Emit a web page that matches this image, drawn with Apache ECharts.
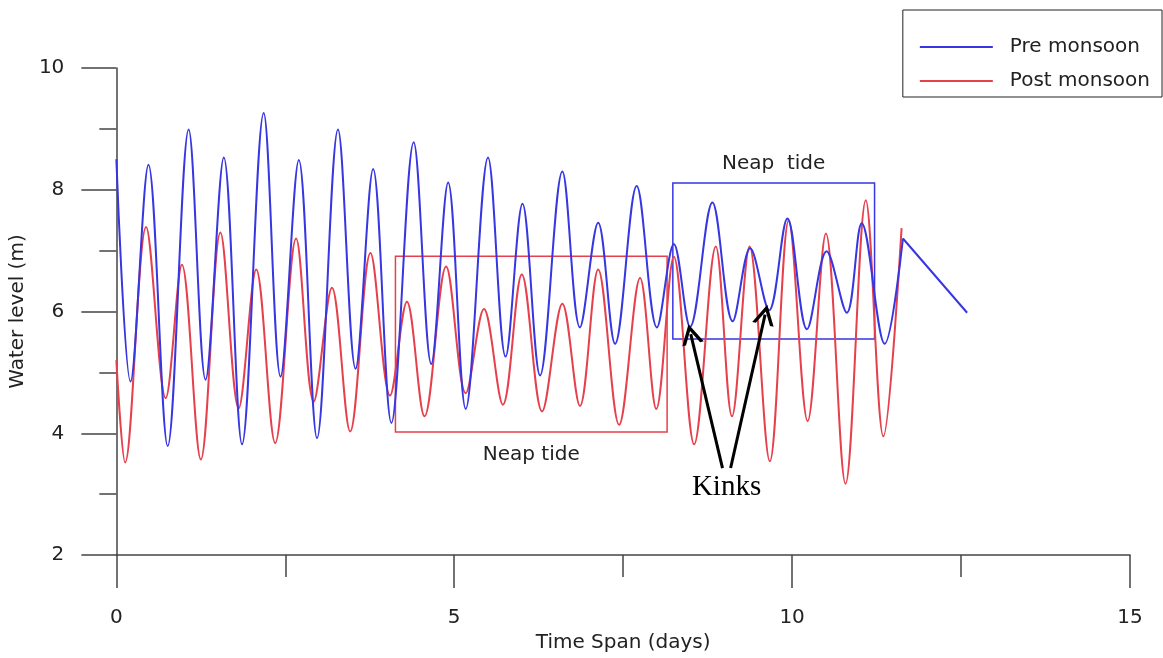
<!DOCTYPE html>
<html>
<head>
<meta charset="utf-8">
<script src="https://cdn.jsdelivr.net/npm/echarts@6/dist/echarts.min.js"></script>
<style>
  html, body { margin: 0; padding: 0; background: #fff; }
  #chart { width: 1163px; height: 658px; }
</style>
</head>
<body>
<div id="chart"></div>
<script>
// tide extrema (days, metres)
const preTime = [0, 0.21, 0.475, 0.76, 1.07, 1.32, 1.59, 1.86, 2.18, 2.43, 2.70, 2.97, 3.28, 3.54, 3.80, 4.07, 4.40, 4.66, 4.91, 5.17, 5.50, 5.76, 6.01, 6.27, 6.60, 6.86, 7.13, 7.38, 7.70, 8.0, 8.25, 8.49, 8.82, 9.12, 9.38, 9.66, 9.93, 10.22, 10.51, 10.81, 11.03, 11.37, 11.64]
const preLevel = [8.5, 4.85, 8.41, 3.79, 8.99, 4.88, 8.53, 3.82, 9.26, 4.93, 8.49, 3.92, 8.99, 5.06, 8.34, 4.17, 8.78, 5.14, 8.12, 4.40, 8.53, 5.26, 7.77, 4.95, 8.30, 5.74, 7.46, 5.47, 8.06, 5.74, 7.11, 5.75, 7.79, 5.84, 7.04, 6.02, 7.53, 5.71, 6.99, 5.98, 7.45, 5.47, 7.20]
const preTailTime = [11.64, 12.59]
const preTailLevel = [7.20, 5.98]

const postTime = [0, 0.13, 0.44, 0.73, 0.97, 1.25, 1.54, 1.81, 2.07, 2.35, 2.66, 2.92, 3.19, 3.46, 3.76, 4.05, 4.30, 4.56, 4.88, 5.17, 5.44, 5.72, 6.0, 6.30, 6.60, 6.86, 7.13, 7.44, 7.75, 7.99, 8.25, 8.55, 8.87, 9.11, 9.37, 9.67, 9.95, 10.23, 10.50, 10.79, 11.09, 11.35, 11.62]
const postLevel = [5.2, 3.52, 7.39, 4.58, 6.77, 3.57, 7.30, 4.41, 6.69, 3.84, 7.20, 4.52, 6.39, 4.03, 6.96, 4.62, 6.16, 4.28, 6.74, 4.66, 6.04, 4.47, 6.61, 4.36, 6.13, 4.45, 6.69, 4.14, 6.55, 4.40, 6.90, 3.82, 7.07, 4.28, 7.07, 3.54, 7.50, 4.20, 7.28, 3.17, 7.83, 3.95, 7.37]

// neap tide boxes: [x0, y0, x1, y1]
const preNeapBox = [8.235, 5.55, 11.22, 8.11]
const postNeapBox = [4.13, 4.02, 8.15, 6.91]

// kink arrows: [tailX, tailY, tipX, tipY]
const kinkArrows = [
  [8.97, 3.43, 8.50, 5.63],
  [9.09, 3.43, 9.60, 5.95]
]
const kinkLabelAt = [9.03, 3.11]

const seriesNames = ['Pre monsoon', 'Post monsoon']
const blue = '#3636e2'
const red = '#e6404c'
const textColor = '#222'
const axisColor = '#444'
const font = 'DejaVu Sans'

function pairs(xs, ys) {
  return xs.map((x, i) => [x, ys[i]])
}

// open arrow head, tip at the top
const chevron = 'path://M0,10 L5,0 L10,10 L8.3,10 L5,3.4 L1.7,10 Z'

const chart = echarts.init(document.getElementById('chart'))

chart.setOption({
  animation: false,
  grid: { left: 110, right: 33, top: 68, bottom: 98 },
  legend: {
    data: seriesNames,
    orient: 'vertical',
    right: 1,
    top: 10,
    icon: 'rect',
    itemWidth: 73,
    itemHeight: 2,
    itemGap: 14,
    padding: [27, 12, 6, 17],
    borderColor: '#222',
    borderWidth: 1,
    textStyle: { color: textColor, fontFamily: font, fontSize: 20, lineHeight: 20, padding: [0, 0, 0, 12] }
  },
  xAxis: {
    type: 'value',
    min: 0,
    max: 15,
    interval: 5,
    name: 'Time Span (days)',
    nameLocation: 'middle',
    nameGap: 75,
    nameTextStyle: { color: textColor, fontFamily: font, fontSize: 20 },
    axisLine: { onZero: false, lineStyle: { color: axisColor, width: 1.5 } },
    axisTick: { length: 33, lineStyle: { color: axisColor, width: 1.5 } },
    minorTick: { show: true, splitNumber: 2, length: 22, lineStyle: { color: axisColor, width: 1.5 } },
    axisLabel: { color: textColor, fontFamily: font, fontSize: 20, margin: 53 },
    splitLine: { show: false }
  },
  yAxis: {
    type: 'value',
    min: 2,
    max: 10,
    interval: 2,
    name: 'Water level (m)',
    nameLocation: 'middle',
    nameRotate: 90,
    nameGap: 77,
    nameTextStyle: { color: textColor, fontFamily: font, fontSize: 20 },
    axisLine: { onZero: false, lineStyle: { color: axisColor, width: 1.5 } },
    axisTick: { length: 35, lineStyle: { color: axisColor, width: 1.5 } },
    minorTick: { show: true, splitNumber: 2, length: 17, lineStyle: { color: axisColor, width: 1.5 } },
    axisLabel: { color: textColor, fontFamily: font, fontSize: 20, margin: 52 },
    splitLine: { show: false }
  },
  series: [
    {
      name: seriesNames[0],
      type: 'line',
      data: pairs(preTime, preLevel),
      smooth: 0.35,
      showSymbol: false,
      lineStyle: { color: blue, width: 2 },
      itemStyle: { color: blue },
      z: 3,
      markArea: {
        silent: true,
        itemStyle: { color: 'transparent', borderColor: blue, borderWidth: 1.5 },
        label: { show: true, position: 'top', distance: 9, color: textColor, fontFamily: font, fontSize: 20 },
        data: [[
          { name: 'Neap  tide', coord: [preNeapBox[0], preNeapBox[3]] },
          { coord: [preNeapBox[2], preNeapBox[1]] }
        ]]
      },
      markLine: {
        silent: true,
        symbol: ['none', chevron],
        symbolSize: [22, 20],
        label: { show: false },
        lineStyle: { color: '#000', width: 3, type: 'solid' },
        data: kinkArrows.map((a) => [
          { coord: [a[0], a[1]] },
          { coord: [a[2], a[3]] }
        ])
      },
      markPoint: {
        silent: true,
        symbol: 'circle',
        symbolSize: 0,
        label: { show: true, position: 'inside', color: '#000', fontFamily: 'Liberation Serif', fontSize: 29, formatter: 'Kinks' },
        data: [{ coord: kinkLabelAt }]
      }
    },
    {
      name: seriesNames[0],
      type: 'line',
      data: pairs(preTailTime, preTailLevel),
      showSymbol: false,
      lineStyle: { color: blue, width: 2 },
      itemStyle: { color: blue },
      z: 3
    },
    {
      name: seriesNames[1],
      type: 'line',
      data: pairs(postTime, postLevel),
      smooth: 0.35,
      showSymbol: false,
      lineStyle: { color: red, width: 2 },
      itemStyle: { color: red },
      z: 2,
      markArea: {
        silent: true,
        itemStyle: { color: 'transparent', borderColor: red, borderWidth: 1.5 },
        label: { show: true, position: 'bottom', distance: 12, color: textColor, fontFamily: font, fontSize: 20 },
        data: [[
          { name: 'Neap tide', coord: [postNeapBox[0], postNeapBox[3]] },
          { coord: [postNeapBox[2], postNeapBox[1]] }
        ]]
      }
    }
  ]
})
</script>
</body>
</html>
